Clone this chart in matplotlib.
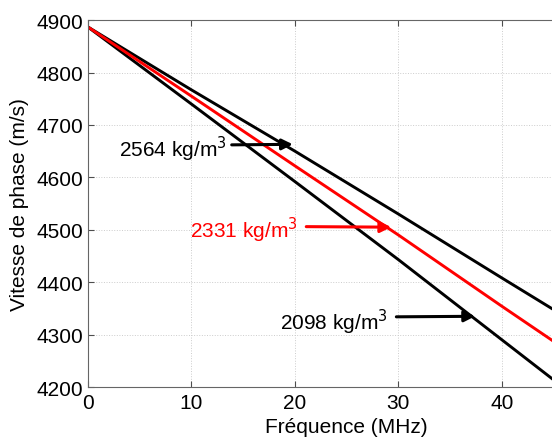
import matplotlib.pyplot as plt
import numpy as np

plt.rcParams['font.family'] = ['Liberation Sans', 'DejaVu Sans']

# frequency (MHz) and phase velocity (m/s)
freq = [0, 10, 20, 30, 40, 50]
v_2564 = [4887, 4767, 4650, 4530, 4408, 4287]
v_2331 = [4887, 4755, 4622, 4490, 4354, 4220]
v_2098 = [4887, 4740, 4592, 4443, 4290, 4137]

labels = ['2564 kg/m$^3$', '2331 kg/m$^3$', '2098 kg/m$^3$']
colors = ['black', 'red', 'black']
# text anchor (right end) and arrow tail / tip, in data units
text_pos = [(13.4, 4655), (20.3, 4500), (29.0, 4326)]
arrow_tail = [(13.9, 4662), (21.1, 4506), (29.8, 4334)]
arrow_tip = [(19.8, 4663), (29.3, 4505), (37.4, 4335)]

fig = plt.figure(figsize=(5.52, 4.39), dpi=100)
ax = fig.add_axes([0.159, 0.116, 0.938, 0.836])

ax.plot(freq, v_2564, color='black', lw=2.1)
ax.plot(freq, v_2098, color='black', lw=2.1)
ax.plot(freq, v_2331, color='red', lw=2.1)

for lab, col, tp, ta, tt in zip(labels, colors, text_pos, arrow_tail, arrow_tip):
    ax.text(tp[0], tp[1], lab, color=col, fontsize=15, ha='right', va='center')
    ax.annotate('', xy=tt, xytext=ta,
                arrowprops=dict(arrowstyle='-|>', color=col, lw=2.2,
                                mutation_scale=16, shrinkA=0, shrinkB=0))

ax.set_xlim(0, 50)
ax.set_ylim(4200, 4900)
ax.set_xticks(np.arange(0, 41, 10))
ax.set_yticks(np.arange(4200, 4901, 100))
ax.grid(True, linestyle=':', color='0.8', lw=0.7)
ax.tick_params(direction='in', top=True, right=True, labelsize=15, length=4,
               color='0.3', pad=3)
ax.tick_params(axis='x', pad=4)
for s in ax.spines.values():
    s.set_color('0.4')
ax.set_xlabel('Fréquence (MHz)', fontsize=15, labelpad=4)
ax.set_ylabel('Vitesse de phase (m/s)', fontsize=15, labelpad=6)

fig.savefig('out.png', dpi=100)
